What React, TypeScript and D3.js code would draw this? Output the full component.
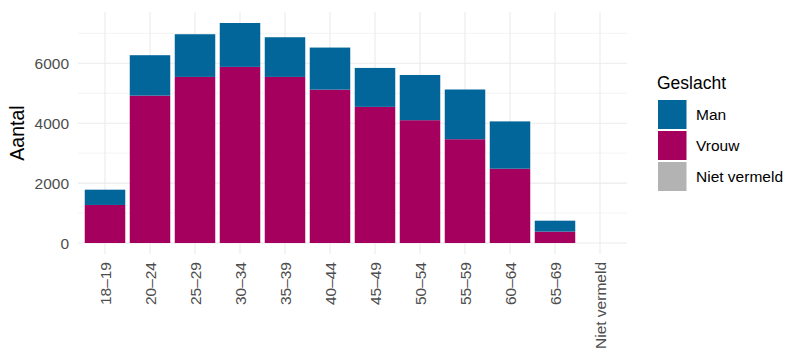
import React from "react";
import * as d3 from "d3";

const categories = ["18–19", "20–24", "25–29", "30–34", "35–39", "40–44", "45–49", "50–54", "55–59", "60–64", "65–69", "Niet vermeld"];
const vrouwValues = [1270, 4920, 5545, 5880, 5545, 5120, 4545, 4100, 3465, 2480, 380, 0];
const manValues = [510, 1350, 1425, 1465, 1325, 1405, 1300, 1510, 1660, 1580, 365, 0];
const nietValues = [0, 0, 0, 0, 0, 0, 0, 0, 0, 0, 0, 0];
const yTicks = [0, 2000, 4000, 6000];
const yMinorTicks = [1000, 3000, 5000, 7000];
const seriesNames = ["Man", "Vrouw", "Niet vermeld"];
const seriesColors = ["#03669b", "#a6005f", "#b3b3b3"];

const W = 787;
const H = 352;
const FONT = "'Liberation Sans', Arial, sans-serif";

export default function App() {
  const left = 78;
  const right = 627;
  const top = 12;
  const bottom = 254;

  const totals = categories.map((_, i) => vrouwValues[i] + manValues[i] + nietValues[i]);
  const maxV = d3.max(totals) as number;
  const pad = maxV * 0.05;

  const x = d3.scaleBand().domain(categories).range([left, right]).paddingInner(0.1).paddingOuter(0.15);
  const y = d3.scaleLinear().domain([-pad, maxV + pad]).range([bottom, top]);

  const rows = categories.map((c, i) => ({ cat: c, Vrouw: vrouwValues[i], Man: manValues[i], "Niet vermeld": nietValues[i] }));
  const stack = d3.stack<any>().keys(["Vrouw", "Man", "Niet vermeld"]);
  const stacked = stack(rows);
  const colorOf: Record<string, string> = {};
  seriesNames.forEach((n, i) => (colorOf[n] = seriesColors[i]));

  const bw = x.bandwidth();

  return (
    <svg width={W} height={H} style={{ position: "absolute", left: 0, top: 0, background: "#fff" }}>
      <rect x={0} y={0} width={W} height={H} fill="#fff" />
      {yMinorTicks.map((t) => (
        <line key={"mn" + t} x1={left} x2={right} y1={y(t)} y2={y(t)} stroke="#ebebeb" strokeWidth={0.6} />
      ))}
      {yTicks.map((t) => (
        <line key={"mj" + t} x1={left} x2={right} y1={y(t)} y2={y(t)} stroke="#ebebeb" strokeWidth={1.1} />
      ))}
      {categories.map((c) => (
        <line key={"vg" + c} x1={(x(c) as number) + bw / 2} x2={(x(c) as number) + bw / 2} y1={top} y2={bottom} stroke="#ebebeb" strokeWidth={1.1} />
      ))}
      {stacked.map((s) =>
        s.map((d, i) => {
          const h = y(d[0]) - y(d[1]);
          if (h <= 0) return null;
          return (
            <rect
              key={s.key + i}
              x={x(categories[i]) as number}
              y={y(d[1])}
              width={bw}
              height={h}
              fill={colorOf[s.key]}
            />
          );
        })
      )}
      {yTicks.map((t) => (
        <text key={"yl" + t} x={69} y={y(t)} dy="0.36em" textAnchor="end" fontFamily={FONT} fontSize={15.5} fill="#4d4d4d">
          {t}
        </text>
      ))}
      {categories.map((c) => {
        const cx = (x(c) as number) + bw / 2;
        const cy = 262;
        return (
          <text
            key={"xl" + c}
            transform={`translate(${cx},${cy}) rotate(-90)`}
            textAnchor="end"
            dy="0.36em"
            fontFamily={FONT}
            fontSize={15.5}
            fill="#4d4d4d"
          >
            {c}
          </text>
        );
      })}
      <text transform={`translate(24,133) rotate(-90)`} textAnchor="middle" fontFamily={FONT} fontSize={19.5} fill="#000">
        Aantal
      </text>
      <text x={657} y={89} fontFamily={FONT} fontSize={17.5} fill="#000">
        Geslacht
      </text>
      {seriesNames.map((n, i) => {
        const ky = 100 + i * 31;
        return (
          <g key={"lg" + n}>
            <rect x={658} y={ky} width={28.5} height={29} fill={seriesColors[i]} />
            <text x={696} y={ky + 14.5} dy="0.36em" fontFamily={FONT} fontSize={15.5} fill="#000">
              {n}
            </text>
          </g>
        );
      })}
    </svg>
  );
}
